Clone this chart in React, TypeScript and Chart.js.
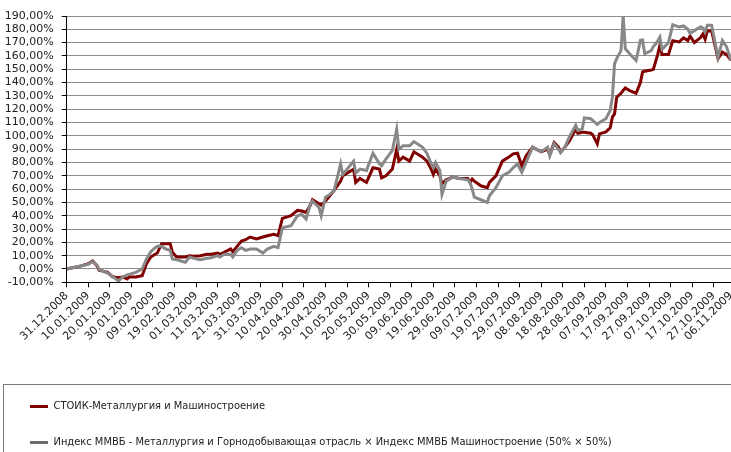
import { useEffect, useRef } from "react";
import { Chart, registerables } from "chart.js";

Chart.register(...registerables);

// ---- data ----
const seriesNames = [
  "СТОИК-Металлургия и Машиностроение",
  "Индекс ММВБ - Металлургия и Горнодобывающая отрасль × Индекс ММВБ Машиностроение (50% × 50%)",
];

const dates = [
  "31.12.2008", "06.01.2009", "10.01.2009", "12.01.2009", "14.01.2009", "15.01.2009", "19.01.2009", "21.01.2009",
  "22.01.2009", "24.01.2009", "26.01.2009", "28.01.2009", "29.01.2009", "01.02.2009", "04.02.2009", "06.02.2009",
  "08.02.2009", "10.02.2009", "11.02.2009", "13.02.2009", "15.02.2009", "17.02.2009", "18.02.2009", "20.02.2009",
  "22.02.2009", "24.02.2009", "26.02.2009", "28.02.2009", "03.03.2009", "06.03.2009", "08.03.2009", "11.03.2009",
  "12.03.2009", "14.03.2009", "17.03.2009", "18.03.2009", "20.03.2009", "22.03.2009", "24.03.2009", "26.03.2009",
  "29.03.2009", "01.04.2009", "03.04.2009", "06.04.2009", "08.04.2009", "10.04.2009", "14.04.2009", "17.04.2009",
  "19.04.2009", "21.04.2009", "23.04.2009", "24.04.2009", "27.04.2009", "28.04.2009", "30.04.2009", "02.05.2009",
  "04.05.2009", "07.05.2009", "08.05.2009", "10.05.2009", "13.05.2009", "14.05.2009", "16.05.2009", "19.05.2009",
  "22.05.2009", "25.05.2009", "26.05.2009", "28.05.2009", "31.05.2009", "02.06.2009", "03.06.2009", "05.06.2009",
  "08.06.2009", "10.06.2009", "14.06.2009", "16.06.2009", "18.06.2009", "19.06.2009", "20.06.2009", "22.06.2009",
  "23.06.2009", "25.06.2009", "28.06.2009", "01.07.2009", "05.07.2009", "06.07.2009", "07.07.2009", "08.07.2009",
  "11.07.2009", "14.07.2009", "15.07.2009", "18.07.2009", "21.07.2009", "24.07.2009", "26.07.2009", "28.07.2009",
  "30.07.2009", "01.08.2009", "04.08.2009", "08.08.2009", "11.08.2009", "12.08.2009", "14.08.2009", "16.08.2009",
  "17.08.2009", "19.08.2009", "21.08.2009", "24.08.2009", "25.08.2009", "27.08.2009", "28.08.2009", "31.08.2009",
  "01.09.2009", "03.09.2009", "04.09.2009", "07.09.2009", "09.09.2009", "10.09.2009", "11.09.2009", "12.09.2009",
  "14.09.2009", "15.09.2009", "16.09.2009", "18.09.2009", "21.09.2009", "23.09.2009", "24.09.2009", "25.09.2009",
  "28.09.2009", "29.09.2009", "01.10.2009", "02.10.2009", "03.10.2009", "06.10.2009", "08.10.2009", "11.10.2009",
  "13.10.2009", "15.10.2009", "16.10.2009", "18.10.2009", "21.10.2009", "22.10.2009", "23.10.2009", "24.10.2009",
  "26.10.2009", "29.10.2009", "31.10.2009", "02.11.2009", "04.11.2009",
];

const stoik = [
  0, 2, 4, 6, 2.5, -1, -2.5, -5.5,
  -6, -6.5, -6, -7.5, -6, -6, -5, 4,
  9, 11, 12, 19, 19, 19, 12.5, 9,
  9, 9, 10, 9.5, 10, 11, 11, 12,
  11, 12.5, 15, 13, 17, 21, 22, 24,
  22.5, 24, 25, 26, 25, 38, 40, 44,
  43.5, 42.5, 48, 52, 49, 48, 51, 55,
  59, 66, 70, 72, 75, 65, 68, 65,
  76, 75, 68.5, 70, 75, 90, 81, 84,
  81, 88, 84, 81, 75, 71, 75, 70,
  64, 67, 69, 68, 68, 65, 67.5, 66,
  62.5, 61, 65, 70, 81, 84, 86.5, 87,
  77.5, 85, 91.5, 88, 90, 86, 95, 91.5,
  87.7, 91.5, 96, 105, 102, 102.7, 102.7, 102,
  100.5, 94, 101.5, 103, 106, 114, 116.5, 129,
  132, 134, 136, 134, 132, 140, 148, 148.5,
  149.5, 150, 161, 168, 161, 161, 171.5, 170.5,
  173.5, 171.5, 175, 170, 174, 176.5, 172.5, 178.8,
  179, 158, 163, 161, 156.6,
];

const micexIndex = [
  0, 2, 3.5, 5.5, 3, -0.5, -3, -5.5,
  -6.5, -9, -6, -4.5, -4, -2.5, 0, 7.5,
  13, 16, 17, 17, 15, 14, 7.5, 7,
  6, 5, 9, 8, 7, 8, 8.5, 10,
  9, 11, 11, 9, 14, 16, 14, 15,
  15, 12, 15, 17, 16, 31, 32.5, 40,
  41, 37.5, 49, 51, 46, 40, 54, 56,
  59, 79, 71, 75, 81, 72, 75, 74,
  87, 79, 77.5, 82.5, 89, 105, 90, 92.5,
  92.5, 95.7, 91.4, 87, 79, 76, 80, 74,
  56, 66, 69, 68, 67, 65, 60, 54,
  52, 50, 55, 61, 70, 72.6, 76, 79,
  72.6, 80, 91.5, 88, 91.5, 85, 94, 90,
  87.7, 91.5, 99, 108, 104, 105, 113.5, 112.8,
  111.5, 108.5, 110, 112.8, 119, 129, 154, 158,
  164, 190, 165.4, 161.6, 156.6, 171.7, 172, 161.6,
  164, 167, 171, 174, 165, 170, 183.5, 181.7,
  182.5, 180, 177, 179, 182, 181, 178, 183,
  183, 159, 171.7, 166.7, 156.6,
];

// x-axis tick labels as printed in the reference (the last one sits at the axis end)
const xTickLabels = [
  "31.12.2008", "10.01.2009", "20.01.2009", "30.01.2009", "09.02.2009", "19.02.2009", "01.03.2009", "11.03.2009",
  "21.03.2009", "31.03.2009", "10.04.2009", "20.04.2009", "30.04.2009", "10.05.2009", "20.05.2009", "30.05.2009",
  "09.06.2009", "19.06.2009", "29.06.2009", "09.07.2009", "19.07.2009", "29.07.2009", "08.08.2009", "18.08.2009",
  "28.08.2009", "07.09.2009", "17.09.2009", "27.09.2009", "07.10.2009", "17.10.2009", "27.10.2009", "06.11.2009",
];
const xStartDate = "31.12.2008";
const xEndDate = "04.11.2009";
const yMin = -10;
const yMax = 190;
const yStep = 10;

// ---- helpers ----
const DAY_MS = 86400000;
const parseDate = (s: string) => {
  const [d, m, y] = s.split(".").map(Number);
  return Date.UTC(y, m - 1, d);
};
const BASE = parseDate(xStartDate);
const dayOf = (s: string) => Math.round((parseDate(s) - BASE) / DAY_MS);
const fmtPct = (v: number) => v.toFixed(2).replace(".", ",") + "%";

const axisFont = { family: "'DejaVu Sans', Verdana, sans-serif", size: 11 };

const legendFrame = {
  id: "legendFrame",
  afterDraw(chart: any) {
    const l = chart.legend;
    if (!l) return;
    const c = chart.ctx;
    c.save();
    c.strokeStyle = "#7a7a7a";
    c.lineWidth = 1;
    c.strokeRect(Math.round(l.left) - 1.5, Math.round(l.top) + 8.5, chart.width + 10, 200);
    c.restore();
  },
};

export default function App() {
  const ref = useRef<HTMLCanvasElement>(null);

  useEffect(() => {
    document.body.style.margin = "0";
    const canvas = ref.current;
    if (!canvas) return;
    const toPts = (vals: number[]) => dates.map((d, i) => ({ x: dayOf(d), y: vals[i] }));

    const chart = new Chart(canvas, {
      type: "line",
      data: {
        datasets: [
          {
            label: seriesNames[0],
            data: toPts(stoik),
            borderColor: "#800000",
            backgroundColor: "#800000",
            borderWidth: 3,
            pointRadius: 0,
            tension: 0,
            order: 1,
          },
          {
            label: seriesNames[1],
            data: toPts(micexIndex),
            borderColor: "#888888",
            backgroundColor: "#6f6f6f",
            borderWidth: 3,
            pointRadius: 0,
            tension: 0,
            order: 0,
          },
        ],
      },
      options: {
        animation: false,
        responsive: false,
        events: [],
        layout: { padding: { left: 5, top: 16, right: 0, bottom: 0 }, autoPadding: false },
        scales: {
          x: {
            type: "linear",
            min: dayOf(xStartDate),
            max: dayOf(xEndDate),
            afterBuildTicks: (s: any) => {
              s.ticks = xTickLabels.map((lab) => ({ value: Math.min(dayOf(lab), s.max), label: lab }));
            },
            afterFit: (s: any) => {
              s.height = 93.7;
              s.paddingLeft = 0;
              s.paddingRight = 0;
            },
            ticks: {
              autoSkip: false,
              maxRotation: 45,
              minRotation: 45,
              padding: 2,
              color: "#222",
              font: axisFont,
              callback: (_v: any, i: number) => xTickLabels[i],
            },
            grid: { drawOnChartArea: false, tickLength: 5, color: "#000", tickColor: "#000" },
            border: { color: "#000", width: 1 },
          },
          y: {
            min: yMin,
            max: yMax,
            afterFit: (s: any) => {
              s.width = 61.7;
            },
            ticks: {
              stepSize: yStep,
              autoSkip: false,
              maxTicksLimit: 100,
              padding: 8,
              color: "#222",
              font: axisFont,
              callback: (v: any) => fmtPct(Number(v)),
            },
            grid: { color: "#8c8c8c", tickColor: "#000", tickLength: 5, lineWidth: 1 },
            border: { color: "#000", width: 1 },
          },
        },
        plugins: {
          tooltip: { enabled: false },
          legend: {
            position: "bottom",
            align: "start",
            labels: {
              boxWidth: 18,
              boxHeight: 3,
              padding: 25,
              color: "#222",
              font: {
                family: "'Liberation Sans Narrow', 'DejaVu Sans Condensed', 'Arial Narrow', sans-serif",
                size: 11,
              },
              sort: (a: any, b: any) => a.datasetIndex - b.datasetIndex,
              generateLabels: (ch: any) =>
                (Chart.defaults.plugins.legend.labels as any)
                  .generateLabels(ch)
                  .map((l: any) => ({ ...l, lineWidth: 0 })),
            },
          },
        },
      } as any,
      plugins: [legendFrame],
    });
    return () => chart.destroy();
  }, []);

  return (
    <div style={{ width: 731, height: 452, overflow: "hidden", position: "relative" }}>
      <canvas ref={ref} width={731} height={458} style={{ display: "block", width: 731, height: 458 }} />
    </div>
  );
}
